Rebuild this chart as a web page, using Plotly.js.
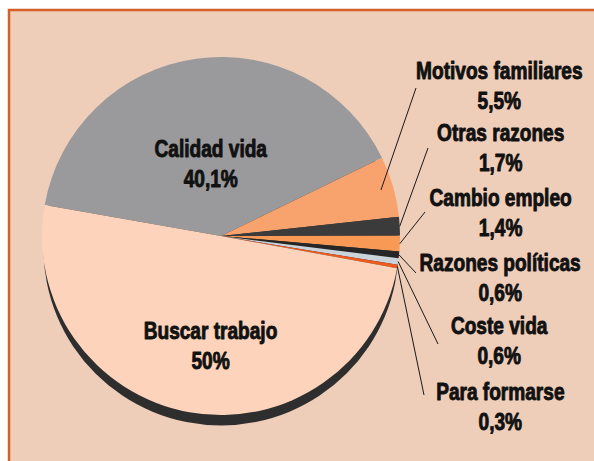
<!DOCTYPE html>
<html>
<head>
<meta charset="utf-8">
<script src="https://cdn.plot.ly/plotly-3.0.1.min.js"></script>
<style>
  html, body { margin: 0; padding: 0; background: #ffffff; }
  #chart { width: 594px; height: 461px; }
</style>
</head>
<body>
<div id="chart"></div>
<script>
// ---- data ----
var categories = ["Calidad vida", "Motivos familiares", "Otras razones", "Cambio empleo",
                  "Razones políticas", "Coste vida", "Para formarse", "Buscar trabajo"];
var values = [40.1, 5.5, 1.7, 1.4, 0.6, 0.6, 0.3, 50];
var sliceColors = ["#9a9a9c", "#f8a36e", "#3b3b3b", "#f89a56",
                   "#262626", "#c9d3d9", "#ef5a1c", "#fdd4bb"];

// ---- layout constants ----
var W = 594, H = 461;
var CX = 221, CY = 236, R = 179;      // pie centre / radius (px)
var SHADOW_DX = 0, SHADOW_DY = 12, SHADOW_R = 177.5;   // 3D edge
var ROT = 280;                        // start bearing of first slice (deg, clockwise)

// label boxes (centre px) and leader-line tails (px), for outside labels
var outsideIdx = [1, 2, 3, 4, 5, 6];
var labelPos = [[499, 86], [500, 148], [500, 213], [500, 278], [499, 341], [500, 407]];
var lineTail = [[416, 88], [428, 148], [425, 212], [416, 273], [438, 344], [424, 395]];
var tipFrac  = [0.93, 1.0, 1.0, 1.0, 1.0, 1.0];
// inside labels
var insideIdx = [0, 7];
var insidePos = [[211, 164], [210, 346]];

function px(x) { return x / W; }
function py(y) { return 1 - y / H; }
function fmt(v) { return String(v).replace('.', ',') + '%'; }

var total = values.reduce(function (a, b) { return a + b; }, 0);
var midAngles = [];
var acc = 0;
values.forEach(function (v) {
  midAngles.push(ROT + (acc + v / 2) / total * 360);
  acc += v;
});

var FONT = '"Liberation Sans", Arial, sans-serif';
var FS = 23;
var SQUEEZE = 0.83;   // condensed look

var shadow = {
  type: 'pie', values: [1], labels: ['sombra'],
  marker: { colors: ['#2e2e2e'], line: { width: 0 } },
  textinfo: 'none', hoverinfo: 'skip', sort: false, showlegend: false,
  domain: { x: [px(CX + SHADOW_DX - SHADOW_R), px(CX + SHADOW_DX + SHADOW_R)],
            y: [py(CY + SHADOW_DY + SHADOW_R), py(CY + SHADOW_DY - SHADOW_R)] }
};

var pie = {
  type: 'pie', values: values, labels: categories,
  marker: { colors: sliceColors, line: { width: 0 } },
  sort: false, direction: 'clockwise', rotation: ROT,
  textinfo: 'none', hoverinfo: 'label+percent', showlegend: false,
  domain: { x: [px(CX - R), px(CX + R)], y: [py(CY + R), py(CY - R)] }
};

var annotations = [];
var shapes = [{
  type: 'rect', xref: 'paper', yref: 'paper', layer: 'below',
  x0: px(9), x1: px(W + 20), y0: py(H + 20), y1: py(10),
  fillcolor: '#eecdb9', line: { color: '#d55f26', width: 2.5 }
}];

insideIdx.forEach(function (idx, k) {
  annotations.push({
    xref: 'paper', yref: 'paper', x: px(insidePos[k][0]), y: py(insidePos[k][1]),
    xanchor: 'center', yanchor: 'middle', showarrow: false,
    text: '<b>' + categories[idx] + '<br>' + fmt(values[idx]) + '</b>',
    font: { family: FONT, size: FS, color: '#111111' }
  });
});

outsideIdx.forEach(function (idx, k) {
  annotations.push({
    xref: 'paper', yref: 'paper', x: px(labelPos[k][0]), y: py(labelPos[k][1]),
    xanchor: 'center', yanchor: 'middle', showarrow: false,
    text: '<b>' + categories[idx] + '<br>' + fmt(values[idx]) + '</b>',
    font: { family: FONT, size: FS, color: '#111111' }
  });
  var a = midAngles[idx] * Math.PI / 180;
  var tx = CX + R * tipFrac[k] * Math.sin(a);
  var ty = CY - R * tipFrac[k] * Math.cos(a);
  shapes.push({
    type: 'line', xref: 'paper', yref: 'paper',
    x0: px(lineTail[k][0]), y0: py(lineTail[k][1]), x1: px(tx), y1: py(ty),
    line: { color: '#1a1a1a', width: 1 }
  });
});

var layout = {
  width: W, height: H,
  margin: { l: 0, r: 0, t: 0, b: 0, pad: 0 },
  paper_bgcolor: '#ffffff',
  showlegend: false,
  shapes: shapes,
  annotations: annotations
};

Plotly.newPlot('chart', [shadow, pie], layout, { displayModeBar: false, staticPlot: true })
  .then(function (gd) {
    // horizontally condense label text around its own centre, and thicken strokes
    var texts = gd.querySelectorAll('.annotation-text');
    texts.forEach(function (t) {
      var bb = t.getBBox();
      var c = bb.x + bb.width / 2;
      var prev = t.getAttribute('transform') || '';
      t.setAttribute('transform', prev + ' translate(' + c + ',0) scale(' + SQUEEZE + ',1) translate(' + (-c) + ',0)');
      t.style.stroke = '#111111';
      t.style.strokeWidth = '0.9px';
      t.style.strokeLinejoin = 'round';
    });
  });
</script>
</body>
</html>
